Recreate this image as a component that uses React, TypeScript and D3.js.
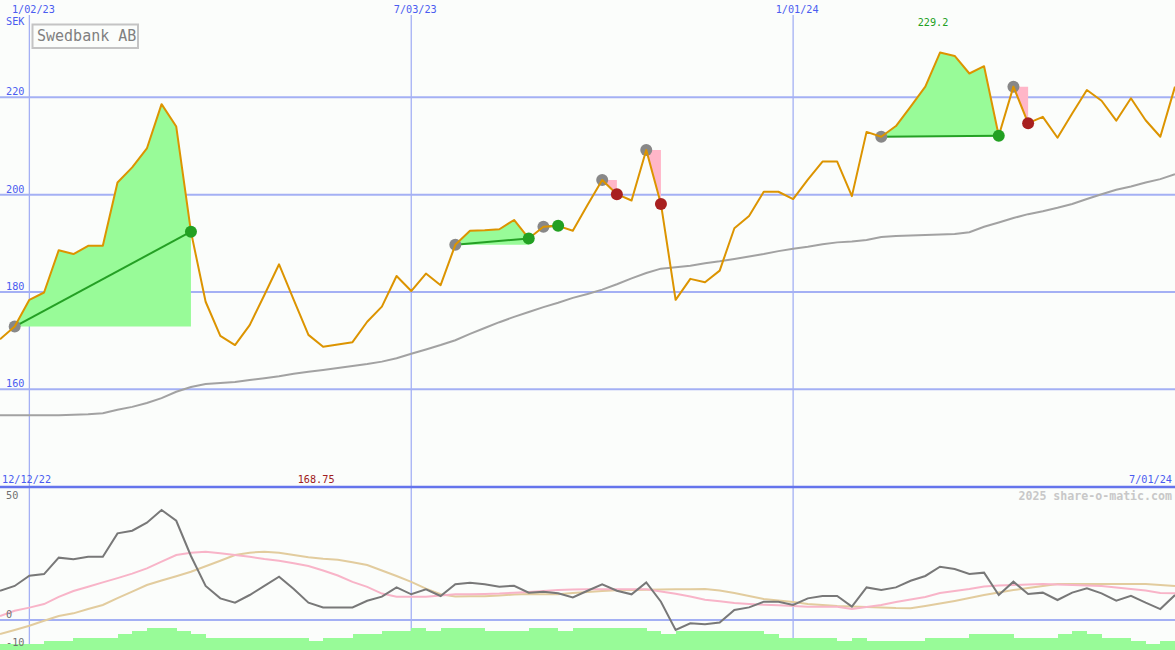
import React from 'react';
import * as d3 from 'd3';

const W = 1175;
const H = 650;

const startDate = new Date(Date.UTC(2022, 11, 19));
const endDate = new Date(Date.UTC(2024, 6, 1));

const title = 'Swedbank AB';
const currency = 'SEK';

const gridDates = [new Date(Date.UTC(2023, 0, 2)), new Date(Date.UTC(2023, 6, 3)), new Date(Date.UTC(2024, 0, 1))];
const gridLabels = ['1/02/23', '7/03/23', '1/01/24'];
const priceTicks = [220, 200, 180, 160];
const lowerTicks = [-10, 0, 50];

const price = [
  170.3, 172.9, 178.4, 179.9, 188.6, 187.8, 189.5, 189.5, 202.5, 205.6,
  209.5, 218.6, 214.0, 192.4, 178.0, 171.0, 169.1, 173.2, 179.4, 185.7,
  178.4, 171.2, 168.75, 169.2, 169.7, 173.9, 177.0, 183.3, 180.2, 183.8,
  181.4, 189.7, 192.6, 192.7, 192.9, 194.8, 191.0, 193.4, 193.6, 192.6,
  197.9, 203.0, 200.1, 198.8, 209.2, 198.1, 178.4, 182.7, 182.0, 184.4,
  193.1, 195.6, 200.6, 200.6, 199.1, 203.1, 206.8, 206.8, 199.7, 212.9,
  211.9, 214.1, 218.1, 222.2, 229.2, 228.5, 224.9, 226.4, 212.1, 222.2,
  214.7, 216.0, 211.7, 216.7, 221.5, 219.3, 215.2, 219.8, 215.3, 211.9,
  222.2,
];

const movingAvg = [
  154.7, 154.7, 154.7, 154.7, 154.7, 154.8, 154.9, 155.1, 155.8, 156.4,
  157.2, 158.2, 159.5, 160.5, 161.1, 161.3, 161.5, 161.9, 162.3, 162.7,
  163.2, 163.6, 164.0, 164.4, 164.8, 165.2, 165.7, 166.4, 167.3, 168.2,
  169.1, 170.1, 171.4, 172.6, 173.8, 174.9, 175.9, 176.9, 177.8, 178.8,
  179.6, 180.5, 181.6, 182.8, 183.9, 184.8, 185.1, 185.4, 185.9, 186.3,
  186.8, 187.3, 187.8, 188.4, 188.9, 189.3, 189.8, 190.2, 190.4, 190.7,
  191.3, 191.5, 191.6, 191.7, 191.8, 191.9, 192.3, 193.4, 194.3, 195.2,
  196.0, 196.6, 197.3, 198.1, 199.1, 200.1, 201.0, 201.7, 202.5, 203.2,
  204.2,
];

const oscillator = [
  12.3, 14.3, 18.6, 19.3, 26.2, 25.5, 26.6, 26.6, 36.4, 37.5,
  40.9, 46.2, 41.7, 26.9, 14.3, 9.1, 7.3, 10.5, 14.3, 18.2,
  13.0, 7.3, 5.3, 5.3, 5.3, 8.1, 9.8, 13.7, 10.8, 12.9,
  10.1, 15.0, 15.7, 15.0, 14.0, 14.4, 11.5, 11.9, 11.2, 9.5,
  12.3, 15.0, 12.3, 10.8, 15.8, 7.7, -4.2, -1.4, -1.8, -1.1,
  4.2, 5.3, 7.7, 7.7, 6.3, 9.1, 10.1, 10.1, 5.6, 13.7,
  12.6, 13.7, 16.5, 18.5, 22.4, 21.4, 19.3, 19.9, 10.5, 16.1,
  10.9, 11.5, 8.4, 11.5, 13.3, 11.2, 8.1, 10.2, 7.3, 4.6,
  10.5,
];

const signalFast = [
  1.7, 3.9, 5.2, 6.7, 9.7, 12.2, 14.0, 15.8, 17.6, 19.5,
  21.7, 24.5, 27.3, 28.3, 28.7, 28.0, 27.3, 26.6, 25.6, 24.9,
  23.8, 22.7, 20.8, 18.7, 16.0, 13.9, 11.1, 9.8, 9.8, 9.8,
  10.3, 10.8, 10.8, 10.9, 11.1, 11.5, 11.8, 12.2, 12.6, 12.8,
  12.9, 12.9, 12.9, 12.9, 12.9, 12.0, 11.0, 9.9, 8.5, 7.9,
  7.1, 6.7, 6.4, 6.2, 5.9, 5.6, 5.6, 5.6, 4.6, 5.5,
  6.3, 7.6, 8.6, 9.7, 11.3, 12.2, 13.0, 14.1, 14.5, 14.7,
  14.9, 15.1, 14.9, 14.7, 14.5, 14.3, 13.7, 13.0, 12.4, 11.3,
  11.2,
];

const signalSlow = [
  -5.9, -4.2, -2.4, -0.3, 1.7, 2.8, 4.6, 6.3, 9.2, 11.9,
  14.7, 16.6, 18.4, 20.3, 22.6, 24.9, 27.3, 28.3, 28.7, 28.3,
  27.3, 26.4, 25.7, 25.3, 24.3, 23.1, 20.8, 18.5, 16.0, 13.2,
  10.8, 9.9, 10.0, 10.0, 10.3, 10.7, 10.9, 10.8, 10.8, 11.3,
  11.8, 12.2, 12.5, 12.6, 12.7, 12.8, 12.9, 12.9, 13.0, 12.4,
  11.3, 10.1, 8.8, 8.2, 7.6, 6.7, 6.3, 5.9, 5.7, 5.5,
  5.3, 5.0, 4.9, 5.9, 6.9, 8.0, 9.2, 10.5, 11.6, 12.6,
  13.4, 14.3, 15.1, 15.1, 15.1, 15.1, 15.1, 15.1, 15.1, 14.7,
  14.3,
];

const volume = [
  1, 1, 1, 2, 2, 3, 3, 3, 4, 5,
  6, 6, 5, 4, 3, 3, 3, 3, 3, 3,
  3, 2, 3, 3, 4, 4, 5, 5, 6, 5,
  6, 6, 6, 5, 5, 5, 6, 6, 5, 6,
  6, 6, 6, 6, 5, 4, 5, 5, 5, 5,
  5, 5, 4, 3, 3, 3, 3, 2, 3, 2,
  2, 2, 2, 3, 3, 3, 4, 4, 4, 3,
  3, 3, 4, 5, 4, 3, 3, 2, 1, 2,
];

const buyIdx = [1, 31, 37, 41, 44, 60, 69];
const sellIdx = [13, 36, 38, 42, 45, 68, 70];

const BG = '#fbfdfb';
const GRID = '#a4b0f4';
const BLUE_TXT = '#4a5cf0';
const FONT = 'DejaVu Sans Mono, monospace';

export default function App() {
  const dates = price.map((_, i) => d3.utcDay.offset(startDate, 7 * i));
  const x = d3.scaleUtc().domain([startDate, endDate]).range([0, W]);
  const y = d3.scaleLinear().domain([140, 240]).range([486.7, 0]);
  const yLow = d3.scaleLinear().domain([-10, 50]).range([643.8, 501]);
  const yVol = d3.scaleLinear().domain([0, 6]).range([647.6, 627.8]);

  const priceLine = d3.line<number>().x((_, i) => x(dates[i])).y((d) => y(d));
  const maLine = d3.line<number>().x((_, i) => x(dates[i])).y((d) => y(d));
  const lowLine = d3.line<number>().x((_, i) => x(dates[i])).y((d) => yLow(d));

  const trades = buyIdx.map((b, k) => {
    const s = sellIdx[k];
    const buyP = price[b];
    const gain = price[s] >= buyP;
    const idx = d3.range(b, s + 1);
    const area = d3
      .area<number>()
      .x((i) => x(dates[i]))
      .y0(() => y(buyP))
      .y1((i) => y(price[i]));
    return { b, s, buyP, gain, path: area(idx) as string };
  });

  const maxI = d3.maxIndex(price);
  const minI = d3.minIndex(price);

  return (
    <svg
      width={W}
      height={H}
      style={{ position: 'fixed', left: 0, top: 0, background: BG }}
      fontFamily={FONT}
    >
      <rect x={0} y={0} width={W} height={H} fill={BG} />

      {/* vertical date gridlines */}
      {gridDates.map((d, k) => (
        <g key={'vg' + k}>
          <line x1={x(d)} x2={x(d)} y1={15} y2={H} stroke={GRID} strokeWidth={1.3} />
          <text x={x(d) + 4} y={12.5} fontSize={10.2} fill={BLUE_TXT} textAnchor="middle">
            {gridLabels[k]}
          </text>
        </g>
      ))}

      {/* horizontal price gridlines */}
      {priceTicks.map((v) => (
        <g key={'hg' + v}>
          <line x1={0} x2={W} y1={y(v)} y2={y(v)} stroke={GRID} strokeWidth={2} />
          <text x={6} y={y(v) - 2} fontSize={10.2} fill={BLUE_TXT}>
            {v}
          </text>
        </g>
      ))}
      <text x={6} y={25} fontSize={10.2} fill={BLUE_TXT}>
        {currency}
      </text>

      {/* title box */}
      <rect x={32.5} y={24.5} width={105.5} height={23.5} fill={BG} stroke="#c4c4c4" strokeWidth={2} />
      <text x={37} y={41} fontSize={15} fill="#808080">
        {title}
      </text>

      {/* moving average */}
      <path d={maLine(movingAvg) as string} fill="none" stroke="#a2a2a2" strokeWidth={2} />

      {/* trade fills */}
      {trades.map((t, k) => (
        <path key={'tf' + k} d={t.path} fill={t.gain ? '#98fb98' : '#ffb6c8'} stroke="none" />
      ))}
      {trades
        .filter((t) => t.gain)
        .map((t, k) => (
          <line
            key={'tl' + k}
            x1={x(dates[t.b])}
            y1={y(price[t.b])}
            x2={x(dates[t.s])}
            y2={y(price[t.s])}
            stroke="#24a024"
            strokeWidth={2}
          />
        ))}

      {/* buy dots */}
      {trades.map((t, k) => (
        <circle key={'bd' + k} cx={x(dates[t.b])} cy={y(price[t.b])} r={6} fill="#888888" />
      ))}

      {/* price line */}
      <path d={priceLine(price) as string} fill="none" stroke="#dc9400" strokeWidth={2} strokeLinejoin="round" />

      {/* sell dots */}
      {trades.map((t, k) => (
        <circle
          key={'sd' + k}
          cx={x(dates[t.s])}
          cy={y(price[t.s])}
          r={6}
          fill={t.gain ? '#22a022' : '#a82020'}
        />
      ))}

      {/* max / min labels */}
      <text x={x(dates[maxI]) - 7} y={26} fontSize={10.2} fill="#22a022" textAnchor="middle">
        {price[maxI].toFixed(1)}
      </text>
      <text x={x(dates[minI]) - 7} y={482.5} fontSize={10.2} fill="#a02020" textAnchor="middle">
        {price[minI].toFixed(2)}
      </text>

      {/* lower panel */}
      <line x1={0} x2={W} y1={487} y2={487} stroke="#6474ec" strokeWidth={2.5} />
      <line x1={0} x2={W} y1={yLow(0)} y2={yLow(0)} stroke={GRID} strokeWidth={2} />
      <text x={2} y={482.5} fontSize={10.2} fill={BLUE_TXT}>
        12/12/22
      </text>
      <text x={1172} y={482.5} fontSize={10.2} fill={BLUE_TXT} textAnchor="end">
        7/01/24
      </text>
      <text x={1172} y={500} fontSize={11.6} fontWeight="bold" fill="#c8c8c8" textAnchor="end">
        2025 share-o-matic.com
      </text>

      <path d={lowLine(signalSlow) as string} fill="none" stroke="#e2cc9e" strokeWidth={2} />
      <path d={lowLine(signalFast) as string} fill="none" stroke="#f8b4c8" strokeWidth={2} />
      <path d={lowLine(oscillator) as string} fill="none" stroke="#787878" strokeWidth={2} />

      {volume.map((v, k) => (
        <rect
          key={'vb' + k}
          x={x(dates[k])}
          y={yVol(v)}
          width={x(dates[k + 1]) - x(dates[k]) + 0.3}
          height={H - yVol(v)}
          fill="#98fb98"
          shapeRendering="crispEdges"
        />
      ))}

      {lowerTicks.map((v, k) => (
        <text
          key={'lt' + v}
          x={6}
          y={k === 0 ? H - 4.5 : yLow(v) - 2.5}
          fontSize={10.2}
          fill="#707070"
        >
          {v}
        </text>
      ))}
    </svg>
  );
}
